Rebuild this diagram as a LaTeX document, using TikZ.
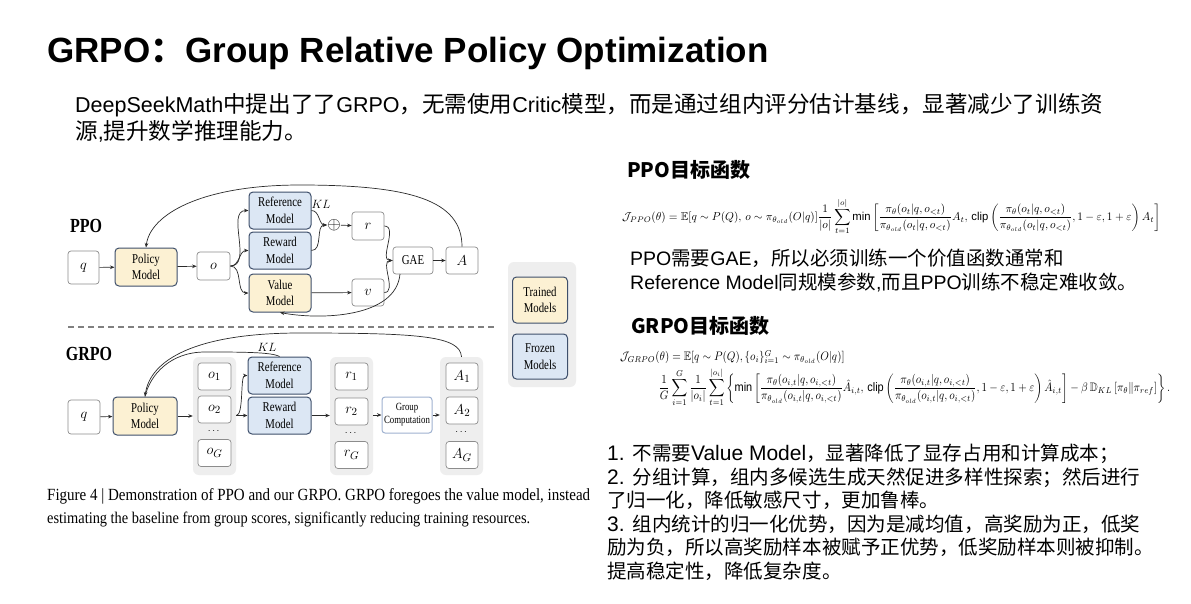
\documentclass[tikz,border=0pt]{standalone}
\usepackage{amsmath,amssymb}
\usepackage{fontspec}
\setmainfont{Liberation Sans}
\newfontfamily\cjk{Noto Sans CJK SC}
\newfontfamily\cjkA[Scale=1.05]{Noto Sans CJK SC}
\newfontfamily\cjkB[Scale=0.93]{Noto Sans CJK SC}
\newfontfamily\figfont[FakeStretch=0.8]{Liberation Serif}
\newfontfamily\capfont[FakeStretch=0.88]{Liberation Serif}
\newcommand\zh[1]{{\cjk #1}}
\newcommand\zhA[1]{{\cjkA #1}}
\newcommand\zhB[1]{{\cjkB #1}}
\usetikzlibrary{arrows.meta}
\definecolor{yfill}{HTML}{FCF1D3}
\definecolor{bfill}{HTML}{DCE7F4}
\definecolor{mbord}{HTML}{3E4F6B}
\definecolor{wbord}{HTML}{8C8C8C}
\definecolor{gbg}{HTML}{EEEEEE}
\definecolor{gcb}{HTML}{9FB2D0}
\definecolor{arrc}{HTML}{2B2B2B}
\definecolor{dashc}{HTML}{808080}
\begin{document}
\begin{tikzpicture}[x=1pt,y=-1pt,
  txt/.style={inner sep=0pt, anchor=base west},
  wbox/.style={draw=wbord, line width=0.7pt, fill=white, rounded corners=3pt, inner sep=0pt,
     font=\fontsize{15}{15}\selectfont},
  model/.style={draw=mbord, line width=1pt, rounded corners=4pt, inner sep=0pt, align=center,
     minimum width=62pt, minimum height=37pt, font=\figfont\fontsize{13.5}{16.5}\selectfont},
  ymodel/.style={model, fill=yfill},
  bmodel/.style={model, fill=bfill},
  grp/.style={fill=gbg, rounded corners=6pt, inner sep=0pt, minimum width=43pt, minimum height=118pt},
  sbox/.style={wbox, minimum width=33pt, minimum height=27pt},
  arr/.style={-{Stealth[length=4.5pt,width=3.6pt]}, line width=0.7pt, draw=arrc},
  ln/.style={line width=0.7pt, draw=arrc},
  lab/.style={inner sep=0pt, font=\figfont\bfseries\fontsize{20}{20}\selectfont}
]
\useasboundingbox (0,0) rectangle (1191,603);
\fill[white] (0,0) rectangle (1191,603);

% ---------- title and intro ----------
\node[txt, font=\bfseries\fontsize{35}{40}\selectfont] (title) at (47,62)
  {GRPO{\cjk ：}Group Relative Policy Optimization};
\node[txt, font=\fontsize{21.5}{24}\selectfont] (sub1) at (75,112.5)
  {DeepSeekMath\zhA{中提出了了}GRPO\zhA{，无需使用}Critic\zhA{模型，而是通过组内评分估计基线，显著减少了训练资}};
\node[txt, font=\fontsize{21.5}{24}\selectfont] (sub2) at (75,139.5)
  {\zhA{源},\zhA{提升数学推理能力。}};

% ---------- PPO part of figure ----------
\node[lab] (ppolab) at (86,226) {PPO};
\node[wbox, minimum width=31pt, minimum height=33pt] (q1) at (83.5,267.5) {$q$};
\node[ymodel, minimum height=38pt] (pol1) at (146,267) {Policy\\Model};
\node[wbox, minimum width=33pt, minimum height=28pt] (o) at (213.5,266) {$o$};
\node[bmodel] (ref1) at (280,210.5) {Reference\\Model};
\node[bmodel] (rew1) at (280,250.5) {Reward\\Model};
\node[ymodel, minimum height=38pt] (val) at (280,293) {Value\\Model};
\node[inner sep=0pt, font=\fontsize{16}{16}\selectfont] (oplus) at (334,225) {$\oplus$};
\node[inner sep=0pt, font=\fontsize{12}{12}\selectfont] (kl1) at (321,204) {$KL$};
\node[sbox, minimum width=32pt, minimum height=28pt] (r) at (368,226) {$r$};
\node[sbox, minimum width=32pt] (v) at (368,292.5) {$v$};
\node[sbox, minimum width=40pt, font=\figfont\fontsize{13.5}{15}\selectfont] (gae) at (413,260.5) {GAE};
\node[sbox, minimum width=32pt] (A) at (462,260.5) {$A$};

\draw[arr] (q1) -- (pol1);
\draw[arr] (pol1) -- (o);
\draw[arr] (o.east) to[out=0,in=180] (ref1.west);
\draw[arr] (o.east) to[out=0,in=180] (rew1.west);
\draw[arr] (o.east) to[out=0,in=180] (val.west);
\draw[arr] (ref1.east) to[out=0,in=180] (oplus.west);
\draw[arr] (rew1.east) to[out=0,in=180] (oplus.west);
\draw[arr] (oplus) -- (r);
\draw[arr] (r.east) to[out=0,in=180] (gae.west);
\draw[arr] (v.east) to[out=0,in=180] (gae.west);
\draw[arr] (val) -- (v);
\draw[arr] (gae) -- (A);
\draw[arr] (A.north) .. controls (462,200) and (410,185) .. (300,185)
   .. controls (200,185) and (150,215) .. (pol1.north);
\coordinate (gaeb) at (400,274);
\draw[arr] (gaeb) .. controls (396,318) and (320,320) .. (val.south);

% separator
\draw[dashc, line width=1.3pt, dash pattern=on 6pt off 4pt] (68,327) -- (495,327);

% ---------- GRPO part of figure ----------
\node[lab] (grpolab) at (89,354) {GRPO};
\node[grp] (og) at (214.5,416) {};
\node[grp] (rg) at (351.5,416) {};
\node[grp] (ag) at (461.5,416) {};
\node[wbox, minimum width=32pt, minimum height=34pt] (q2) at (84,417) {$q$};
\node[ymodel, minimum width=64pt, minimum height=38pt] (pol2) at (145,416) {Policy\\Model};
\node[sbox] (o1) at (214.5,376.5) {$o_1$};
\node[sbox] (o2) at (214.5,409.5) {$o_2$};
\node[inner sep=0pt] (od) at (214.5,431) {$\cdots$};
\node[sbox] (oG) at (214.5,453) {$o_G$};
\node[bmodel, minimum width=63pt] (ref2) at (279.5,375.5) {Reference\\Model};
\node[bmodel, minimum width=63pt] (rew2) at (279.5,415.5) {Reward\\Model};
\node[sbox] (r1) at (351.5,376.5) {$r_1$};
\node[sbox] (r2) at (351.5,411.5) {$r_2$};
\node[inner sep=0pt] (rd) at (351.5,433) {$\cdots$};
\node[sbox] (rG) at (351.5,455) {$r_G$};
\node[wbox, draw=gcb, line width=1pt, minimum width=50pt, minimum height=36pt, align=center,
   font=\figfont\fontsize{11}{13}\selectfont] (gc) at (407,415) {Group\\Computation};
\node[sbox, minimum width=32pt] (A1) at (462,376.5) {$A_1$};
\node[sbox, minimum width=32pt] (A2) at (462,410.5) {$A_2$};
\node[inner sep=0pt] (Ad) at (462,432) {$\cdots$};
\node[sbox, minimum width=32pt] (AG) at (462,455) {$A_G$};
\node[inner sep=0pt, font=\fontsize{12}{12}\selectfont] (kl2) at (267,347) {$KL$};

\draw[arr] (q2) -- (pol2);
\draw[arr] (pol2.east) -- (pol2.east -| og.west);
\draw[arr] (og.east |- rew2.west) -- (rew2.west);
\draw[arr] (og.east |- rew2.west) .. controls (244,415.5) and (240,375.5) .. (ref2.west);
\draw[arr] (rew2.east) -- (rew2.east -| rg.west);
\draw[arr] (rg.east |- gc.west) -- (gc.west);
\draw[arr] (gc.east) -- (gc.east -| ag.west);
\draw[arr] (ag.north) .. controls (460,336) and (420,333) .. (300,333)
   .. controls (195,333) and (150,360) .. (pol2.north);
\draw[ln] (ref2.north) .. controls (272,352) and (240,352) .. (205,352)
   .. controls (170,352) and (150,375) .. (pol2.north);

% ---------- legend ----------
\node[fill=gbg, rounded corners=6pt, minimum width=68pt, minimum height=125pt, inner sep=0pt] (leg) at (542,324.5) {};
\node[ymodel, minimum width=55pt, minimum height=46pt] (trained) at (540,300) {Trained\\Models};
\node[bmodel, minimum width=55pt, minimum height=45pt] (frozen) at (540,356.5) {Frozen\\Models};

% ---------- caption ----------
\node[anchor=west, inner sep=0pt] (cap1) at (47,496)
  {\resizebox{543pt}{!}{\capfont Figure 4 | Demonstration of PPO and our GRPO. GRPO foregoes the value model, instead}};
\node[anchor=west, inner sep=0pt] (cap2) at (47,519)
  {\resizebox{483pt}{!}{\capfont estimating the baseline from group scores, significantly reducing training resources.}};

% ---------- right column ----------
\node[txt, font=\cjk\bfseries\fontsize{20}{24}\selectfont] (h1) at (627,177.5) {PPO目标函数};
\node[anchor=west, inner sep=0pt] (fppo) at (622,216.5)
 {\resizebox*{538pt}{37pt}{$\displaystyle \mathcal{J}_{PPO}(\theta)=\mathbb{E}[q\sim P(Q),\,o\sim\pi_{\theta_{old}}(O|q)]\frac{1}{|o|}\sum_{t=1}^{|o|}\min\left[\frac{\pi_\theta(o_t|q,o_{<t})}{\pi_{\theta_{old}}(o_t|q,o_{<t})}A_t,\,\mathrm{clip}\left(\frac{\pi_\theta(o_t|q,o_{<t})}{\pi_{\theta_{old}}(o_t|q,o_{<t})},1-\varepsilon,1+\varepsilon\right)A_t\right]$}};
\node[txt, font=\fontsize{19.5}{22}\selectfont] (pt1) at (630,265)
  {PPO\zh{需要}GAE\zh{，所以必须训练一个价值函数通常和}};
\node[txt, font=\fontsize{19.5}{22}\selectfont] (pt2) at (630,289)
  {Reference Model\zh{同规模参数},\zh{而且}PPO\zh{训练不稳定难收敛。}};

\node[txt, font=\cjk\bfseries\fontsize{20}{24}\selectfont] (h2) at (631,333.5) {GRPO目标函数};
\node[anchor=north west, inner sep=0pt] (fgrpo) at (620,350)
 {\resizebox*{550pt}{57pt}{$\begin{array}{@{}l@{}}
   \mathcal{J}_{GRPO}(\theta)=\mathbb{E}[q\sim P(Q),\{o_i\}_{i=1}^{G}\sim\pi_{\theta_{old}}(O|q)]\\[2pt]
   \hspace{35pt}\displaystyle \frac{1}{G}\sum_{i=1}^{G}\frac{1}{|o_i|}\sum_{t=1}^{|o_i|}\left\{\min\left[\frac{\pi_\theta(o_{i,t}|q,o_{i,<t})}{\pi_{\theta_{old}}(o_{i,t}|q,o_{i,<t})}\hat{A}_{i,t},\,\mathrm{clip}\left(\frac{\pi_\theta(o_{i,t}|q,o_{i,<t})}{\pi_{\theta_{old}}(o_{i,t}|q,o_{i,<t})},1-\varepsilon,1+\varepsilon\right)\hat{A}_{i,t}\right]-\beta\,\mathbb{D}_{KL}\left[\pi_\theta\|\pi_{ref}\right]\right\}.
  \end{array}$}};

\node[txt, font=\fontsize{21}{24}\selectfont] (l1) at (607,460.4)
  {1. \zhB{不需要}Value Model\zhB{，显著降低了显存占用和计算成本；}};
\node[txt, font=\fontsize{21}{24}\selectfont] (l2) at (607,484)
  {2. \zhB{分组计算，组内多候选生成天然促进多样性探索；然后进行}};
\node[txt, font=\fontsize{21}{24}\selectfont] (l3) at (607,507.6)
  {\zhB{了归一化，降低敏感尺寸，更加鲁棒。}};
\node[txt, font=\fontsize{21}{24}\selectfont] (l4) at (607,531.2)
  {3. \zhB{组内统计的归一化优势，因为是减均值，高奖励为正，低奖}};
\node[txt, font=\fontsize{21}{24}\selectfont] (l5) at (607,554.8)
  {\zhB{励为负，所以高奖励样本被赋予正优势，低奖励样本则被抑制。}};
\node[txt, font=\fontsize{21}{24}\selectfont] (l6) at (607,578.4)
  {\zhB{提高稳定性，降低复杂度。}};
\end{tikzpicture}
\end{document}
